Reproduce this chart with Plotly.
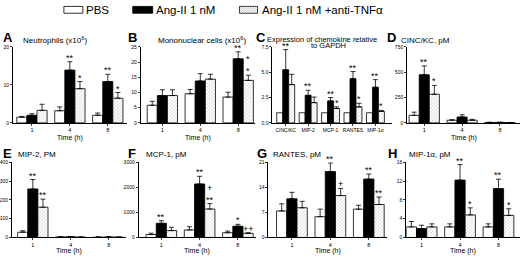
import plotly.graph_objects as go

W, H = 520, 261

# ---------------- data ----------------
time_labels = ["1", "4", "8"]
chem_labels = ["CINC/KC", "MIP-2", "MCP-1", "RANTES", "MIP-1α"]

# A  Neutrophils (x10^6)
neu_pbs = [1.5, 3.2, 2.0];    neu_pbs_err = [0.2, 1.0, 0.6]
neu_ang = [2.0, 13.9, 10.9];  neu_ang_err = [0.4, 2.2, 1.9]
neu_anti = [3.3, 9.0, 6.5];   neu_anti_err = [1.6, 1.9, 1.5]
neu_ang_star = ["", "**", "**"]
neu_anti_star = ["", "*", "*"]
neu_ticks = [0, 10, 20]

# B  Mononuclear cells (x10^6)
mono_pbs = [5.8, 9.6, 8.5];    mono_pbs_err = [1.3, 1.4, 1.6]
mono_ang = [9.0, 13.8, 21.1];  mono_ang_err = [1.9, 2.4, 2.3]
mono_anti = [9.0, 14.4, 14.0]; mono_anti_err = [1.9, 1.6, 1.7]
mono_ang_star = ["", "", "**"]
mono_anti_star = ["", "", "*<br>*"]
mono_ticks = [0, 5, 10, 15, 20, 25]

# C  Expression of chemokine relative to GAPDH
chem_pbs = [1.0, 1.0, 1.0, 1.0, 1.0]; chem_pbs_err = None
chem_ang = [5.24, 2.72, 2.17, 4.36, 3.52]; chem_ang_err = [2.0, 0.5, 0.33, 0.71, 0.75]
chem_anti = [3.78, 2.0, 1.42, 1.58, 1.13]; chem_anti_err = [1.02, 0.55, 0.16, 0.36, 0.1]
chem_ang_star = ["**", "**", "**", "**", "**"]
chem_anti_star = ["", "", "*", "*", "*"]
chem_ticks = [0, 2.5, 5.0, 7.5]

# D  CINC/KC, pM
cinc_pbs = [74, 26, 4];   cinc_pbs_err = [32, 6, 2]
cinc_ang = [476, 58, 5];  cinc_ang_err = [87, 22, 2]
cinc_anti = [283, 26, 3]; cinc_anti_err = [87, 9, 1]
cinc_ang_star = ["**", "", ""]
cinc_anti_star = ["*", "", ""]
cinc_ticks = [0, 250, 500, 750]

# E  MIP-2, pM
mip2_pbs = [28, 3, 2];   mip2_pbs_err = [8, 1, 1]
mip2_ang = [258, 4, 3];  mip2_ang_err = [50, 1, 1]
mip2_anti = [161, 2, 2]; mip2_anti_err = [43, 1, 1]
mip2_ang_star = ["**", "", ""]
mip2_anti_star = ["**", "", ""]
mip2_ticks = [0, 100, 200, 300, 400]

# F  MCP-1, pM
mcp_pbs = [118, 300, 190];   mcp_pbs_err = [53, 130, 65]
mcp_ang = [566, 2135, 450];  mcp_ang_err = [105, 305, 75]
mcp_anti = [276, 1135, 165]; mcp_anti_err = [130, 215, 25]
mcp_ang_star = ["**", "**", "*"]
mcp_anti_star = ["", "+<br>**", "++"]
mcp_ticks = [0, 1000, 2000, 3000]

# G  RANTES, pM
ran_pbs = [7.4, 5.8, 7.9];    ran_pbs_err = [2.0, 2.1, 1.1]
ran_ang = [10.8, 18.4, 16.3]; ran_ang_err = [1.8, 2.4, 1.4]
ran_anti = [8.3, 11.7, 9.2];  ran_anti_err = [1.8, 2.0, 2.1]
ran_ang_star = ["", "**", "**"]
ran_anti_star = ["", "+", "**"]
ran_ticks = [0, 7, 14, 21]

# H  MIP-1a, pM
mip1_pbs = [2.25, 2.25, 2.25]; mip1_pbs_err = [1.15, 0.65, 0.65]
mip1_ang = [1.9, 12.2, 10.4];  mip1_ang_err = [0.7, 3.3, 2.0]
mip1_anti = [2.25, 4.8, 4.7];  mip1_anti_err = [0.65, 1.5, 1.4]
mip1_ang_star = ["", "**", "**"]
mip1_anti_star = ["", "*", "*"]
mip1_ticks = [0, 4, 8, 12, 16]

series_names = ["PBS", "Ang-II 1 nM", "Ang-II 1 nM +anti-TNFα"]

# ---------------- layout helpers ----------------
def px(x):
    return x / W

def py(y):
    return 1 - y / H

FONT = "Liberation Sans, Arial, sans-serif"
BARGAP = 0.2

panels = [
    dict(letter="A", title="Neutrophils (x10<sup>6</sup>)", cats=time_labels,
         vals=[(neu_pbs, neu_pbs_err), (neu_ang, neu_ang_err), (neu_anti, neu_anti_err)],
         stars=[None, neu_ang_star, neu_anti_star], ticks=neu_ticks, fmt="",
         xdom=(12, 126), xr=(-0.5, 2.5), row=0, letter_x=7, title_x=20, time=True),
    dict(letter="B", title="Mononuclear cells (x10<sup>6</sup>)", cats=time_labels,
         vals=[(mono_pbs, mono_pbs_err), (mono_ang, mono_ang_err), (mono_anti, mono_anti_err)],
         stars=[None, mono_ang_star, mono_anti_star], ticks=mono_ticks, fmt="",
         xdom=(140, 254), xr=(-0.57, 2.43), row=0, letter_x=132, title_x=155, time=True),
    dict(letter="C", title=None, cats=chem_labels,
         vals=[(chem_pbs, chem_pbs_err), (chem_ang, chem_ang_err), (chem_anti, chem_anti_err)],
         stars=[None, chem_ang_star, chem_anti_star], ticks=chem_ticks, fmt=".1f",
         xdom=(272, 392), xr=(-0.59, 4.75), row=0, letter_x=261, title_x=None, time=False),
    dict(letter="D", title="CINC/KC, pM", cats=time_labels,
         vals=[(cinc_pbs, cinc_pbs_err), (cinc_ang, cinc_ang_err), (cinc_anti, cinc_anti_err)],
         stars=[None, cinc_ang_star, cinc_anti_star], ticks=cinc_ticks, fmt="",
         xdom=(407, 520), xr=(-0.45, 2.53), row=0, letter_x=391, title_x=399, time=True),
    dict(letter="E", title="MIP-2, PM", cats=time_labels,
         vals=[(mip2_pbs, mip2_pbs_err), (mip2_ang, mip2_ang_err), (mip2_anti, mip2_anti_err)],
         stars=[None, mip2_ang_star, mip2_anti_star], ticks=mip2_ticks, fmt="",
         xdom=(11, 125), xr=(-0.55, 2.45), row=1, letter_x=7, title_x=15, time=True),
    dict(letter="F", title="MCP-1, pM", cats=time_labels,
         vals=[(mcp_pbs, mcp_pbs_err), (mcp_ang, mcp_ang_err), (mcp_anti, mcp_anti_err)],
         stars=[None, mcp_ang_star, mcp_anti_star], ticks=mcp_ticks, fmt="",
         xdom=(138, 255), xr=(-0.59, 2.46), row=1, letter_x=131, title_x=143, time=True),
    dict(letter="G", title="RANTES, pM", cats=time_labels,
         vals=[(ran_pbs, ran_pbs_err), (ran_ang, ran_ang_err), (ran_anti, ran_anti_err)],
         stars=[None, ran_ang_star, ran_anti_star], ticks=ran_ticks, fmt="",
         xdom=(268, 387), xr=(-0.61, 2.48), row=1, letter_x=262, title_x=271, time=True),
    dict(letter="H", title="MIP-1α, pM", cats=time_labels,
         vals=[(mip1_pbs, mip1_pbs_err), (mip1_ang, mip1_ang_err), (mip1_anti, mip1_anti_err)],
         stars=[None, mip1_ang_star, mip1_anti_star], ticks=mip1_ticks, fmt="",
         xdom=(406, 520), xr=(-0.4, 2.56), row=1, letter_x=392, title_x=407, time=True),
]

rows = [dict(top=45, bottom=122.7, letter_y=35, title_y=38, time_y=138),
        dict(top=163, bottom=240, letter_y=154, title_y=155, time_y=254)]

PATTERN = dict(shape="/", size=2.5, solidity=0.3, fgcolor="#8a8a8a", bgcolor="white")
styles = [
    dict(marker=dict(color="white", line=dict(color="black", width=0.8))),
    dict(marker=dict(color="black", line=dict(color="black", width=0.8))),
    dict(marker=dict(color="white", line=dict(color="black", width=0.8), pattern=PATTERN)),
]

fig = go.Figure()
annotations = []
shapes = []
layout = dict(
    width=W, height=H, margin=dict(l=0, r=0, t=0, b=0),
    paper_bgcolor="white", plot_bgcolor="white",
    barmode="group", bargap=BARGAP, bargroupgap=0, showlegend=False,
    font=dict(family=FONT, color="black"),
)

for i, p in enumerate(panels):
    n = i + 1
    xa = "x" if n == 1 else f"x{n}"
    ya = "y" if n == 1 else f"y{n}"
    r = rows[p["row"]]
    xs = list(range(len(p["cats"])))
    nser = len(p["vals"])
    bw = (1 - BARGAP) / nser
    for k, (v, e) in enumerate(p["vals"]):
        err = dict(visible=False) if e is None else dict(
            type="data", array=e, arrayminus=[0] * len(e), symmetric=False,
            color="black", thickness=0.8, width=2.5)
        fig.add_trace(go.Bar(
            x=xs, y=v, error_y=err, name=series_names[k],
            xaxis=xa, yaxis=ya, **styles[k]))
        st = p["stars"][k]
        if st:
            for j, s in enumerate(st):
                if s:
                    top = v[j] + (e[j] if e is not None else 0)
                    annotations.append(dict(
                        x=xs[j] + (k - (nser - 1) / 2) * bw, y=top, xref=xa, yref=ya,
                        text=s, showarrow=False, yanchor="bottom", yshift=-3,
                        font=dict(size=9, family=FONT)))
    ticks = p["ticks"]
    layout["xaxis" if n == 1 else f"xaxis{n}"] = dict(
        domain=[px(p["xdom"][0]), px(p["xdom"][1])], range=list(p["xr"]),
        anchor=ya, tickvals=xs, ticktext=p["cats"], tickangle=0, showline=True, linecolor="black",
        linewidth=1, ticks="outside", ticklen=2, tickwidth=0.8, tickcolor="black",
        showgrid=False, zeroline=False,
        tickfont=dict(size=5 if len(xs) > 3 else 5.5, family=FONT))
    layout["yaxis" if n == 1 else f"yaxis{n}"] = dict(
        domain=[py(r["bottom"]), py(r["top"])], range=[ticks[0], ticks[-1]],
        anchor=xa, tickvals=ticks, tickformat=p["fmt"], showline=True, linecolor="black",
        linewidth=1, ticks="outside", ticklen=2, tickwidth=0.8, tickcolor="black",
        showgrid=False, zeroline=False, tickfont=dict(size=5, family=FONT))
    # panel letter
    annotations.append(dict(x=px(p["letter_x"]), y=py(r["letter_y"]), xref="paper", yref="paper",
                            text=f"<b>{p['letter']}</b>", showarrow=False, xanchor="center",
                            yanchor="middle", font=dict(size=13, family=FONT)))
    # title
    if p["title"] is not None:
        annotations.append(dict(x=px(p["title_x"]), y=py(r["title_y"]), xref="paper", yref="paper",
                                text=p["title"], showarrow=False, xanchor="left",
                                yanchor="middle", font=dict(size=8, family=FONT)))
    if p["time"]:
        cx = (p["xdom"][0] + p["xdom"][1]) / 2
        annotations.append(dict(x=px(cx), y=py(r["time_y"]), xref="paper", yref="paper",
                                text="Time (h)", showarrow=False, xanchor="center",
                                yanchor="middle", font=dict(size=7, family=FONT)))

# panel C two-line title
annotations.append(dict(x=px(265), y=py(37), xref="paper", yref="paper",
                        text="Expression of chemokine relative", showarrow=False,
                        xanchor="left", yanchor="middle", font=dict(size=7.5, family=FONT)))
annotations.append(dict(x=px(328), y=py(44), xref="paper", yref="paper",
                        text="to GAPDH", showarrow=False,
                        xanchor="center", yanchor="middle", font=dict(size=7.5, family=FONT)))

# ---------------- legend (boxes + labels) ----------------
leg_boxes = [(63, 82), (132, 152), (239, 257)]
leg_text_x = [83, 153, 259]
leg_y0, leg_y1 = 3.5, 10.5
leg_fill = ["white", "black", "white"]
for k in range(3):
    x0, x1 = leg_boxes[k]
    shapes.append(dict(type="rect", xref="paper", yref="paper",
                       x0=px(x0), x1=px(x1), y0=py(leg_y1), y1=py(leg_y0),
                       fillcolor=leg_fill[k], line=dict(color="black", width=0.8)))
    annotations.append(dict(x=px(leg_text_x[k]), y=py(7), xref="paper", yref="paper",
                            text=series_names[k], showarrow=False, xanchor="left",
                            yanchor="middle", font=dict(size=11.5, family=FONT)))
# hatching inside the third legend box
hx0, hx1 = leg_boxes[2]
hh = leg_y1 - leg_y0
segs = []
xstart = hx0 - hh
while xstart < hx1:
    ax, ay = xstart, leg_y1
    bx, by = xstart + hh, leg_y0
    if ax < hx0:
        ay = leg_y1 - (hx0 - ax); ax = hx0
    if bx > hx1:
        by = leg_y0 + (bx - hx1); bx = hx1
    segs.append(f"M{px(ax)},{py(ay)} L{px(bx)},{py(by)}")
    xstart += 2.5
shapes.append(dict(type="path", xref="paper", yref="paper", path=" ".join(segs),
                   line=dict(color="#9a9a9a", width=0.6)))

layout["annotations"] = annotations
layout["shapes"] = shapes

fig.update_layout(**layout)
fig.write_html("out.html",
               config={"displayModeBar": False, "staticPlot": True},
               post_script="document.body.style.margin='0';document.body.style.overflow='hidden';")
